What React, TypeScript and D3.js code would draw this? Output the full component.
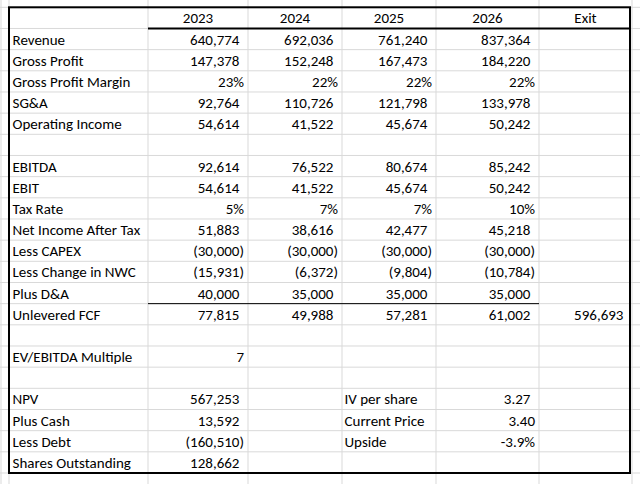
import React from 'react';
import * as d3 from 'd3';

// column headers
const years = ['2023', '2024', '2025', '2026'];
const exitLabel = 'Exit';

// income statement / cash flow lines (one value per year)
const revenue = [640774, 692036, 761240, 837364];
const grossProfit = [147378, 152248, 167473, 184220];
const grossMargin = [0.23, 0.22, 0.22, 0.22];
const sga = [92764, 110726, 121798, 133978];
const operatingIncome = [54614, 41522, 45674, 50242];
const ebitda = [92614, 76522, 80674, 85242];
const ebit = [54614, 41522, 45674, 50242];
const taxRate = [0.05, 0.07, 0.07, 0.1];
const netIncome = [51883, 38616, 42477, 45218];
const capex = [-30000, -30000, -30000, -30000];
const changeNwc = [-15931, -6372, -9804, -10784];
const plusDA = [40000, 35000, 35000, 35000];
const unleveredFcf = [77815, 49988, 57281, 61002];
const exitValue = 596693;
const evEbitdaMultiple = 7;

// valuation block
const valuationLabels = ['NPV', 'Plus Cash', 'Less Debt', 'Shares Outstanding'];
const valuationValues = [567253, 13592, -160510, 128662];
const perShareLabels = ['IV per share', 'Current Price', 'Upside'];
const perShareValues = [3.27, 3.4, -0.039];

type Cell = { text: string; pad: boolean };

// excel-style formatting, plain hyphen for negatives
const locale = d3.formatLocale({
  decimal: '.',
  thousands: ',',
  grouping: [3],
  currency: ['$', ''],
  minus: '-',
});
const fmtInt = locale.format(',.0f');
const acct = (v: number): Cell =>
  v < 0 ? { text: `(${fmtInt(-v)})`, pad: false } : { text: fmtInt(v), pad: true };
const pct = (v: number): Cell => ({ text: locale.format('.0%')(v), pad: false });

type Row = { label: string; cells: (Cell | null)[]; side?: { label: string; cell: Cell } };

const yearRow = (label: string, vals: number[], f: (v: number) => Cell): Row => ({
  label,
  cells: vals.map(f),
});

const rows: Row[] = [
  yearRow('Revenue', revenue, acct),
  yearRow('Gross Profit', grossProfit, acct),
  yearRow('Gross Profit Margin', grossMargin, pct),
  yearRow('SG&A', sga, acct),
  yearRow('Operating Income', operatingIncome, acct),
  { label: '', cells: [] },
  yearRow('EBITDA', ebitda, acct),
  yearRow('EBIT', ebit, acct),
  yearRow('Tax Rate', taxRate, pct),
  yearRow('Net Income After Tax', netIncome, acct),
  yearRow('Less CAPEX', capex, acct),
  yearRow('Less Change in NWC', changeNwc, acct),
  yearRow('Plus D&A', plusDA, acct),
  { label: 'Unlevered FCF', cells: [...unleveredFcf.map(acct), acct(exitValue)] },
  { label: '', cells: [] },
  { label: 'EV/EBITDA Multiple', cells: [{ text: String(evEbitdaMultiple), pad: false }] },
  { label: '', cells: [] },
  ...valuationLabels.map((label, i) => ({
    label,
    cells: [acct(valuationValues[i])],
    side:
      i < perShareLabels.length
        ? {
            label: perShareLabels[i],
            cell:
              i === 0
                ? { text: locale.format('.2f')(perShareValues[i]), pad: true }
                : i === 1
                ? { text: locale.format('.2f')(perShareValues[i]), pad: false }
                : { text: locale.format('.1%')(perShareValues[i]), pad: false },
          }
        : undefined,
  })),
];

const W = 640;
const H = 484;
// spreadsheet column edges (label col, 4 years, exit)
const colEdges = [9, 148, 248, 342, 436, 539, 632];
const extraGridX = [1];
const tableLeft = 9;
const tableRight = 630;

const App = () => {
  const y = d3
    .scaleBand<number>()
    .domain(d3.range(rows.length + 1))
    .range([7.3, 473]);
  const rh = y.bandwidth();
  const gridY = d3.range(-1, rows.length + 3).map((i) => 7.3 + i * rh);
  const base = (i: number) => (y(i) as number) + rh - 5;
  const font = "Carlito, Calibri, Lato, 'Open Sans', sans-serif";
  const fs = 15;

  const numText = (c: Cell, xRight: number, yy: number, key: string) => (
    <text key={key} x={xRight - 4} y={yy} textAnchor="end">
      {c.text}
      {c.pad && <tspan fill="transparent">)</tspan>}
    </text>
  );

  return (
    <svg
      width={W}
      height={H}
      style={{ position: 'absolute', left: 0, top: 0, background: '#fff' }}
      fontFamily={font}
      fontSize={fs}
      fill="#000"
    >
      <rect width={W} height={H} fill="#fff" />
      {/* light grid */}
      <g stroke="#d9d9d9" strokeWidth={1}>
        {gridY.map((gy, i) => (
          <line key={'h' + i} x1={0} x2={W} y1={gy} y2={gy} />
        ))}
        {[...extraGridX, ...colEdges].map((gx, i) => (
          <line key={'v' + i} x1={gx} x2={gx} y1={0} y2={H} />
        ))}
      </g>
      {/* header */}
      {[...years, exitLabel].map((t, i) => (
        <text
          key={'hd' + i}
          x={(colEdges[i + 1] + colEdges[i + 2]) / 2}
          y={base(0) - 0.5}
          textAnchor="middle"
        >
          {t}
        </text>
      ))}
      {rows.map((r, ri) => {
        const yy = base(ri + 1);
        return (
          <g key={'r' + ri}>
            <text x={tableLeft + 3.5} y={yy}>
              {r.label}
            </text>
            {r.cells.map((c, ci) => (c ? numText(c, colEdges[ci + 2], yy, 'c' + ci) : null))}
            {r.side && (
              <>
                <text x={colEdges[3] + 2.5} y={yy}>
                  {r.side.label}
                </text>
                {numText(r.side.cell, colEdges[5], yy, 's')}
              </>
            )}
          </g>
        );
      })}
      {/* borders */}
      <line x1={colEdges[1]} x2={tableRight} y1={y(1)} y2={y(1)} stroke="#000" strokeWidth={2} />
      <line x1={colEdges[1]} x2={colEdges[5]} y1={y(14)} y2={y(14)} stroke="#000" strokeWidth={1} />
      <rect
        x={tableLeft}
        y={y(0)}
        width={tableRight - tableLeft}
        height={(y(rows.length) as number) + rh - (y(0) as number)}
        fill="none"
        stroke="#000"
        strokeWidth={2}
      />
    </svg>
  );
};

export default App;
